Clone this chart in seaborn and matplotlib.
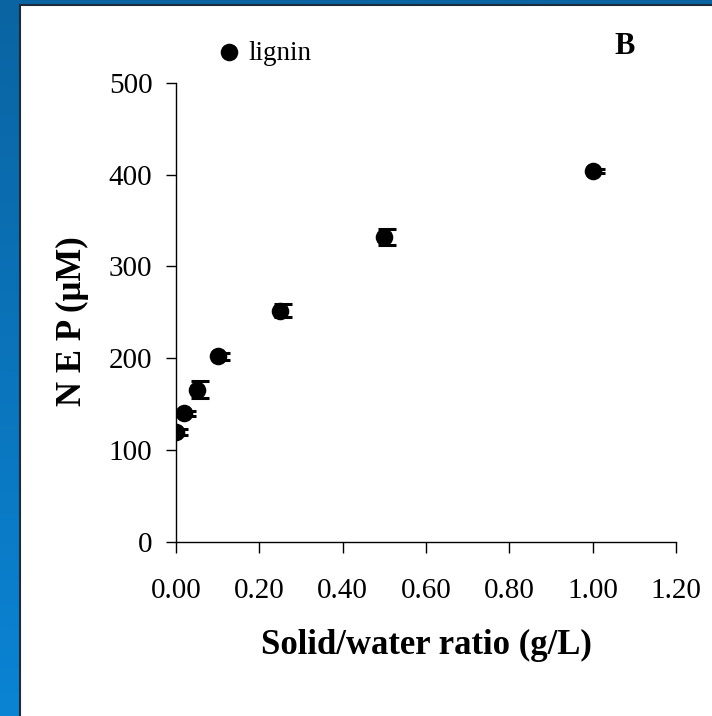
import numpy as np
import pandas as pd
import matplotlib
matplotlib.use("Agg")
import matplotlib.pyplot as plt
import matplotlib.transforms as mtransforms
from matplotlib.colors import LinearSegmentedColormap
from matplotlib.patches import Rectangle
import seaborn as sns

# data
ratio = [0.00, 0.02, 0.05, 0.10, 0.25, 0.50, 1.00]
nep = [120, 140, 166, 202, 252, 332, 404]
nep_err = [3, 3, 9, 4, 7, 9, 2]
x_ticks = [0.0, 0.2, 0.4, 0.6, 0.8, 1.0, 1.2]
y_ticks = [0, 100, 200, 300, 400, 500]

df = pd.DataFrame({"ratio": ratio, "nep": nep, "err": nep_err})

sns.set_style("ticks")
plt.rcParams["font.family"] = ["Liberation Serif", "DejaVu Serif"]
plt.rcParams["text.color"] = "black"
plt.rcParams["axes.labelcolor"] = "black"
plt.rcParams["xtick.color"] = "black"
plt.rcParams["ytick.color"] = "black"

fig = plt.figure(figsize=(7.12, 7.16), dpi=100)

# blue slide frame behind the white panel
bg = fig.add_axes([0, 0, 1, 1], zorder=-10)
bg.axis("off")
bg.set_xlim(0, 1)
bg.set_ylim(0, 1)
cmap = LinearSegmentedColormap.from_list("frame", ["#0a84d4", "#0a64a2"])
grad = np.linspace(0, 1, 256).reshape(-1, 1)
bg.imshow(grad, extent=[0, 1, 0, 1], aspect="auto", cmap=cmap, origin="lower")
bg.add_patch(Rectangle((19.5 / 712, -0.05), 1.2, 1.05 - 4.5 / 716,
                       facecolor="white", edgecolor="#1c2c3c", linewidth=1.5))

ax = fig.add_axes([176 / 712, 174 / 716, 500 / 712, 459.3 / 716])
ax.patch.set_alpha(0)

sns.scatterplot(data=df, x="ratio", y="nep", ax=ax, color="black", s=160,
                edgecolor="black", linewidth=0, label="lignin", zorder=3)

# error bars sit a touch to the right of the markers
shift = mtransforms.ScaledTranslation(3 / 100, 0, fig.dpi_scale_trans)
eb = ax.errorbar(df["ratio"], df["nep"], yerr=df["err"], fmt="none",
                 ecolor="black", elinewidth=1.5, capsize=6.8, capthick=2.2, zorder=2)
for artist in list(eb.lines[1]) + list(eb.lines[2]):
    artist.set_transform(artist.get_transform() + shift)

ax.set_xlim(0, 1.2)
ax.set_ylim(0, 500)
ax.set_xticks(x_ticks)
ax.set_xticklabels([f"{t:.2f}" for t in x_ticks])
ax.set_yticks(y_ticks)
ax.tick_params(axis="x", length=8, width=1, pad=18, labelsize=21, direction="out")
ax.tick_params(axis="y", length=7, width=1, pad=10, labelsize=21, direction="out")
for s in ["top", "right"]:
    ax.spines[s].set_visible(False)
for s in ["left", "bottom"]:
    ax.spines[s].set_linewidth(1)
    ax.spines[s].set_color("black")

ax.set_xlabel("Solid/water ratio (g/L)", fontsize=25, fontweight="bold")
ax.xaxis.set_label_coords(0.5, -0.189)
ax.set_ylabel("N E P (μM)", fontsize=25, fontweight="bold")
ax.yaxis.label.set_va("center")
ax.yaxis.set_label_coords(-0.207, 0.481)

ax.legend(loc="center left", bbox_to_anchor=(202 / 712, 1 - 53 / 716),
          bbox_transform=fig.transFigure, frameon=False, fontsize=19.5,
          borderpad=0, handlelength=1, handletextpad=0.2, markerscale=1)

fig.text(625 / 712, 1 - 46 / 716, "B", fontsize=22, fontweight="bold",
         ha="center", va="center")

fig.savefig("out.png", dpi=100)
